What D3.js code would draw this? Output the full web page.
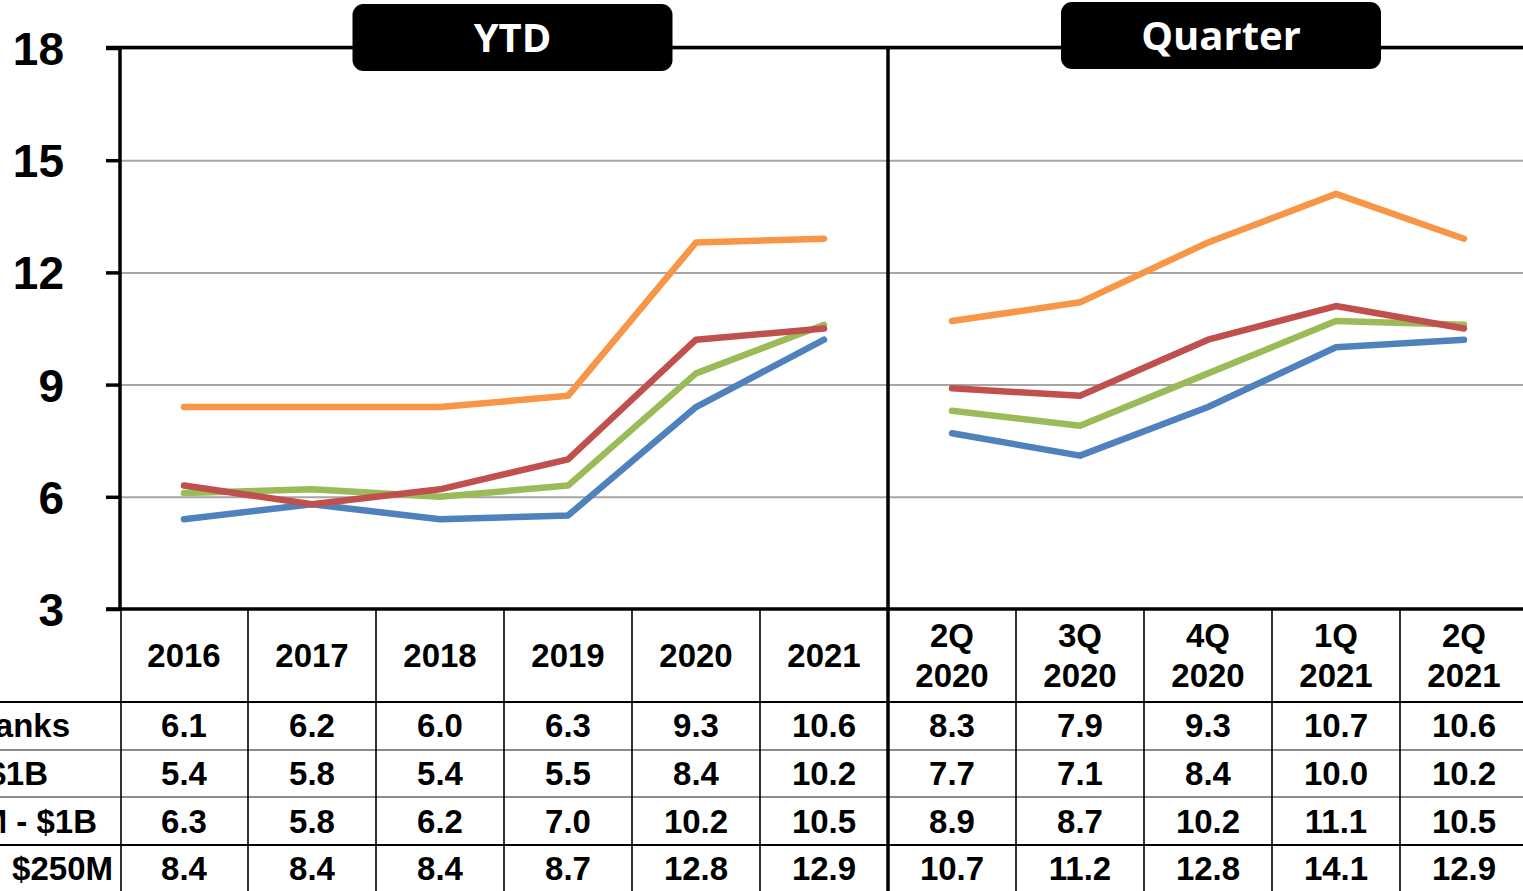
<!DOCTYPE html>
<html>
<head>
<meta charset="utf-8">
<script src="https://cdn.jsdelivr.net/npm/d3@7"></script>
<style>
  html, body { margin: 0; padding: 0; background: #fff; overflow: hidden; }
  svg { display: block; }
</style>
</head>
<body>
<svg id="chart" width="1523" height="891"></svg>
<script>
// Periods along the x axis: six annual (YTD) values, then five quarters
const periods = ["2016", "2017", "2018", "2019", "2020", "2021",
                 "2Q 2020", "3Q 2020", "4Q 2020", "1Q 2021", "2Q 2021"];
const headerLines = [["2016"], ["2017"], ["2018"], ["2019"], ["2020"], ["2021"],
                     ["2Q", "2020"], ["3Q", "2020"], ["4Q", "2020"], ["1Q", "2021"], ["2Q", "2021"]];
const ytdCount = 6;

const seriesNames = ["All Banks", "> $1B", "$250M - $1B", "Banks <  $250M"];
const allBanks = [6.1, 6.2, 6.0, 6.3, 9.3, 10.6, 8.3, 7.9, 9.3, 10.7, 10.6];
const over1B = [5.4, 5.8, 5.4, 5.5, 8.4, 10.2, 7.7, 7.1, 8.4, 10.0, 10.2];
const mid250to1B = [6.3, 5.8, 6.2, 7.0, 10.2, 10.5, 8.9, 8.7, 10.2, 11.1, 10.5];
const under250M = [8.4, 8.4, 8.4, 8.7, 12.8, 12.9, 10.7, 11.2, 12.8, 14.1, 12.9];
const yTicks = [3, 6, 9, 12, 15, 18];
const panelTitles = ["YTD", "Quarter"];

const seriesValues = [allBanks, over1B, mid250to1B, under250M];
const seriesColors = ["#9BBB59", "#4F81BD", "#C0504D", "#F79646"];
// right edge of each row label (the labels run off the left side)
const rowLabelEnds = [70, 48, 97, 113];

const svg = d3.select("#chart");
const W = 1523, H = 891;
const plotLeft = 120, plotTop = 48, plotBottom = 609;

const x = d3.scaleBand().domain(periods).range([plotLeft, plotLeft + 128 * periods.length]).padding(0);
const y = d3.scaleLinear().domain([3, 18]).range([plotBottom, plotTop]);
const cx = d => x(d) + x.bandwidth() / 2;
const divX = x(periods[ytdCount]);

svg.append("rect").attr("width", W).attr("height", H).attr("fill", "#fff");

// horizontal gridlines
svg.append("g").selectAll("line").data(yTicks.filter(t => t > 3)).join("line")
  .attr("x1", plotLeft).attr("x2", W)
  .attr("y1", d => y(d) + 0.5).attr("y2", d => y(d) + 0.5)
  .attr("stroke", "#a6a6a6").attr("stroke-width", 2);

// top border of the plot area
svg.append("line").attr("x1", 106).attr("x2", W).attr("y1", plotTop - 0.5).attr("y2", plotTop - 0.5)
  .attr("stroke", "#000").attr("stroke-width", 3.5);

// y axis with outside ticks
const yAxis = d3.axisLeft(y).tickValues(yTicks).tickSize(14).tickPadding(42).tickFormat(d3.format("d"));
const gy = svg.append("g").attr("transform", `translate(${plotLeft},0)`).call(yAxis);
gy.select(".domain").remove();
gy.selectAll(".tick line").attr("stroke", "#000").attr("stroke-width", 3.5);
gy.selectAll(".tick text")
  .attr("font-family", "'Liberation Sans', Arial, sans-serif")
  .attr("font-weight", "bold").attr("font-size", 46).attr("fill", "#000")
  .attr("dy", "0.36em");
svg.append("line").attr("x1", plotLeft).attr("x2", plotLeft).attr("y1", plotTop - 2).attr("y2", plotBottom)
  .attr("stroke", "#000").attr("stroke-width", 3.5);

// data table below the plot
const table = svg.append("g");
const rowTops = [702, 750, 797, 845];
const rowColors = ["#000", "#8c8c8c", "#8c8c8c", "#000"];
table.selectAll("line.row").data(rowTops).join("line").attr("class", "row")
  .attr("x1", 0).attr("x2", W).attr("y1", d => d).attr("y2", d => d)
  .attr("stroke", (d, i) => rowColors[i]).attr("stroke-width", 1.8);
table.selectAll("line.col").data(periods.slice(1)).join("line").attr("class", "col")
  .attr("x1", d => x(d)).attr("x2", d => x(d)).attr("y1", plotBottom).attr("y2", H)
  .attr("stroke", "#000").attr("stroke-width", 1.6);
table.append("line").attr("x1", plotLeft + 1).attr("x2", plotLeft + 1).attr("y1", plotBottom).attr("y2", H)
  .attr("stroke", "#000").attr("stroke-width", 1.6);

const font = "'Liberation Sans', Arial, sans-serif";
// column headers
const hdr = table.selectAll("text.hdr").data(periods).join("text").attr("class", "hdr")
  .attr("x", d => cx(d)).attr("text-anchor", "middle")
  .attr("font-family", font).attr("font-weight", "bold").attr("font-size", 33).attr("fill", "#000");
hdr.each(function(d, i) {
  const lines = headerLines[i];
  const base = lines.length === 1 ? 667 : 647;
  d3.select(this).selectAll("tspan").data(lines).join("tspan")
    .attr("x", cx(d)).attr("y", (l, j) => base + j * 40).text(l => l);
});

// value rows
const rowBaselines = [737, 785, 833, 880];
seriesValues.forEach((vals, r) => {
  table.append("text").attr("x", rowLabelEnds[r]).attr("y", rowBaselines[r])
    .attr("text-anchor", "end").attr("font-family", font).attr("font-weight", "bold")
    .attr("font-size", 33).attr("fill", "#000").style("white-space", "pre").text(seriesNames[r]);
  table.selectAll(null).data(vals).join("text")
    .attr("x", (v, i) => cx(periods[i])).attr("y", rowBaselines[r])
    .attr("text-anchor", "middle").attr("font-family", font).attr("font-weight", "bold")
    .attr("font-size", 33).attr("fill", "#000").text(v => v.toFixed(1));
});

// bottom axis line and the YTD / Quarter divider
svg.append("line").attr("x1", 106).attr("x2", W).attr("y1", plotBottom).attr("y2", plotBottom)
  .attr("stroke", "#000").attr("stroke-width", 3.5);
svg.append("line").attr("x1", divX).attr("x2", divX).attr("y1", plotTop - 2).attr("y2", H)
  .attr("stroke", "#000").attr("stroke-width", 3.5);

// series lines, drawn separately for the YTD and quarterly panels
const line = d3.line().x(d => cx(d.p)).y(d => y(d.v));
const segments = [[0, ytdCount], [ytdCount, periods.length]];
seriesValues.forEach((vals, s) => {
  segments.forEach(([a, b]) => {
    const pts = vals.slice(a, b).map((v, i) => ({ p: periods[a + i], v }));
    svg.append("path").datum(pts).attr("d", line)
      .attr("fill", "none").attr("stroke", seriesColors[s])
      .attr("stroke-width", 6.5).attr("stroke-linejoin", "round").attr("stroke-linecap", "round");
  });
});

// panel title boxes
const panelCenters = [512.5, 1221];
const panelY = [4, 2];
panelTitles.forEach((t, i) => {
  const g = svg.append("g").attr("transform", `translate(${panelCenters[i]},${panelY[i]})`);
  g.append("rect").attr("x", -160).attr("y", 0).attr("width", 320).attr("height", 67)
    .attr("rx", 11).attr("fill", "#000");
  g.append("text").attr("x", 0).attr("y", 34).attr("dy", "0.36em").attr("text-anchor", "middle")
    .attr("font-family", "'Open Sans', 'Noto Sans', sans-serif").attr("font-weight", "bold")
    .attr("font-size", 40).attr("fill", "#fff").text(t);
});
</script>
</body>
</html>
